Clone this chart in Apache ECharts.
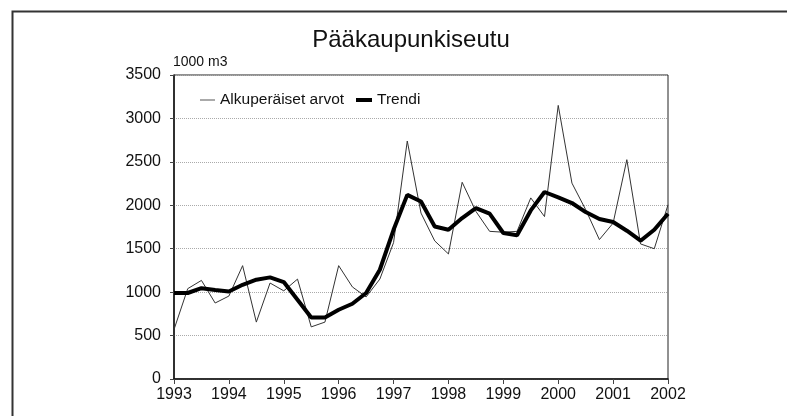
<!DOCTYPE html>
<html>
<head>
<meta charset="utf-8">
<script src="https://cdn.jsdelivr.net/npm/echarts@6/dist/echarts.min.js"></script>
<style>
  html, body { margin: 0; padding: 0; background: #fff; }
  #chart { width: 787px; height: 416px; }
</style>
</head>
<body>
<div id="chart"></div>
<script>
// neljännesvuodet 1993–2002
const quarters = [
  '1993', '1993/2', '1993/3', '1993/4',
  '1994', '1994/2', '1994/3', '1994/4',
  '1995', '1995/2', '1995/3', '1995/4',
  '1996', '1996/2', '1996/3', '1996/4',
  '1997', '1997/2', '1997/3', '1997/4',
  '1998', '1998/2', '1998/3', '1998/4',
  '1999', '1999/2', '1999/3', '1999/4',
  '2000', '2000/2', '2000/3', '2000/4',
  '2001', '2001/2', '2001/3', '2001/4',
  '2002'
];
// alkuperäiset arvot, 1000 m3
const original = [
  570, 1040, 1135, 875,
  955, 1305, 655, 1105,
  1015, 1150, 600, 655,
  1305, 1060, 945, 1150,
  1570, 2740, 1910, 1590,
  1440, 2265, 1930, 1700,
  1690, 1700, 2085, 1870,
  3150, 2255, 1950, 1605,
  1795, 2525, 1555, 1500,
  2005
];
// trendi
const trend = [
  990, 990, 1045, 1025,
  1008, 1085, 1143, 1170,
  1116, 912, 709, 709,
  797, 866, 990, 1258,
  1718, 2120, 2043, 1756,
  1718, 1853, 1968, 1903,
  1681, 1655, 1941, 2153,
  2091, 2026, 1922, 1842,
  1807, 1707, 1592, 1719,
  1903
];
const yTicks = [0, 500, 1000, 1500, 2000, 2500, 3000, 3500];

const font = "'Liberation Sans', Arial, sans-serif";
const chart = echarts.init(document.getElementById('chart'));

const legendText = { fontFamily: font, fontSize: 15.5, color: '#111' };

const option = {
  animation: false,
  backgroundColor: '#fff',
  title: {
    text: 'Pääkaupunkiseutu',
    left: 406,
    textAlign: 'center',
    top: 23,
    textStyle: { fontFamily: font, fontSize: 24, fontWeight: 'normal', color: '#111' }
  },
  // kaksi selitettä, jotta viivojen paksuus näkyy oikein
  legend: [
    {
      left: 195,
      top: 87,
      icon: 'rect',
      itemWidth: 15,
      itemHeight: 1,
      textStyle: legendText,
      data: ['Alkuperäiset arvot']
    },
    {
      left: 351,
      top: 87,
      icon: 'rect',
      itemWidth: 16,
      itemHeight: 4,
      textStyle: legendText,
      data: ['Trendi']
    }
  ],
  grid: {
    left: 174,
    right: 119,
    top: 75,
    bottom: 37,
    show: true,
    borderColor: '#222',
    borderWidth: 1
  },
  xAxis: {
    type: 'category',
    data: quarters,
    boundaryGap: false,
    axisLine: { lineStyle: { color: '#111', width: 1.5 } },
    axisTick: { interval: 3, length: 5, lineStyle: { color: '#444' } },
    axisLabel: {
      interval: 3,
      margin: 8,
      fontFamily: font, fontSize: 16, color: '#111'
    },
    splitLine: { show: false }
  },
  yAxis: {
    type: 'value',
    min: yTicks[0],
    max: yTicks[yTicks.length - 1],
    interval: 500,
    name: '1000 m3',
    nameLocation: 'end',
    nameGap: 6,
    nameTextStyle: { fontFamily: font, fontSize: 14, color: '#111', align: 'left', padding: [0, 0, 0, -1] },
    axisLine: { show: true, lineStyle: { color: '#111', width: 1.5 } },
    axisTick: { show: true, length: 4, lineStyle: { color: '#444' } },
    axisLabel: {
      margin: 13,
      fontFamily: font, fontSize: 16, color: '#111',
      formatter: v => String(v)
    },
    splitLine: { show: true, lineStyle: { color: '#aaa', type: 'dotted', width: 1 } }
  },
  graphic: [{
    type: 'rect',
    left: 10,
    top: 9,
    shape: { width: 800, height: 420 },
    style: { fill: 'none', stroke: '#333', lineWidth: 2 },
    silent: true
  }],
  series: [
    {
      name: 'Alkuperäiset arvot',
      type: 'line',
      data: original,
      symbol: 'none',
      lineStyle: { color: '#333', width: 1 },
      itemStyle: { color: '#555' }
    },
    {
      name: 'Trendi',
      type: 'line',
      data: trend,
      symbol: 'none',
      lineStyle: { color: '#000', width: 4 },
      itemStyle: { color: '#000' }
    }
  ]
};
chart.setOption(option);
</script>
</body>
</html>
